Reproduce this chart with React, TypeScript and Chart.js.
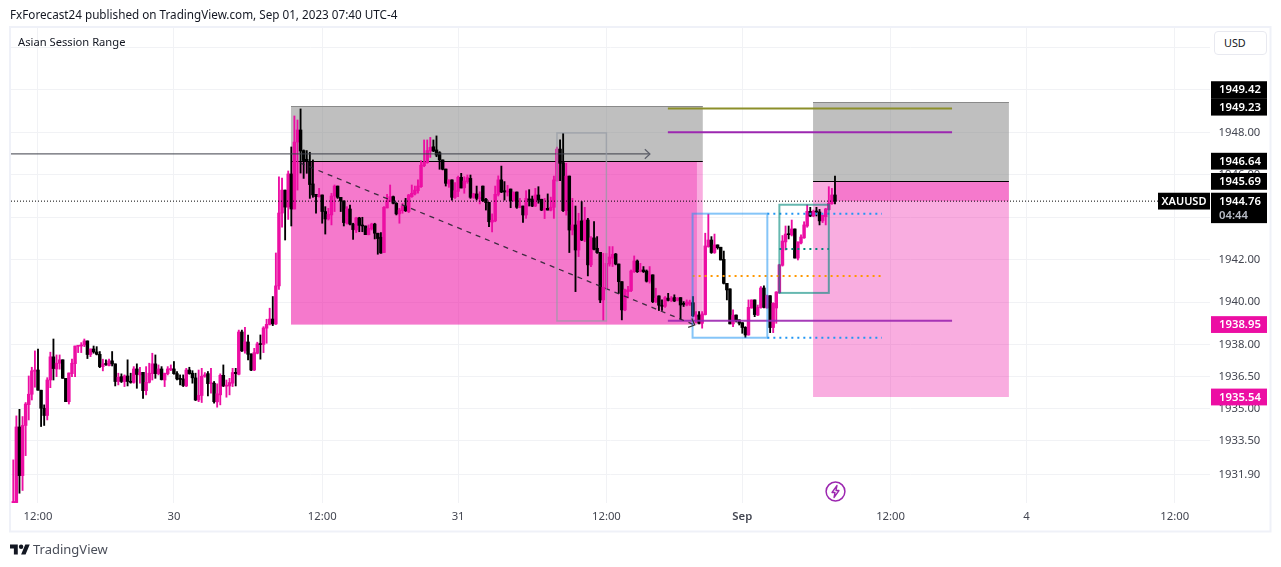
import React, { useEffect, useRef } from "react";
import { Chart, registerables } from "chart.js";

Chart.register(...registerables);

// [open, high, low, close] per 15-minute bar
const aug29Candles: number[][] = [
[1930.55,1932.58,1930.55,1930.62],[1930.57,1934.65,1930.55,1934.13],[1934.13,1934.96,1931.01,1931.84],[1931.84,1934.62,1931.14,1934.2],
[1934.2,1935.28,1932.78,1935.21],[1935.18,1936.53,1934.46,1935.67],[1935.67,1936.94,1935.4,1936.77],[1936.75,1937.71,1936.0,1936.81],
[1936.81,1937.8,1935.86,1935.86],[1935.86,1935.86,1934.15,1935.01],[1935.01,1935.17,1934.2,1934.67],[1934.67,1936.45,1934.46,1936.34],
[1936.34,1937.65,1935.98,1937.43],[1937.43,1938.27,1936.34,1936.88],[1936.86,1937.52,1936.5,1937.13],[1937.13,1937.52,1936.85,1937.29],
[1937.29,1937.29,1936.42,1936.42],[1936.42,1936.42,1935.32,1935.32],[1935.32,1936.67,1935.21,1936.67],[1936.64,1937.32,1936.5,1937.13],
[1937.11,1937.94,1936.5,1937.94],[1937.93,1937.96,1937.63,1937.96],[1937.94,1938.1,1937.63,1937.99],[1937.99,1938.27,1937.91,1938.18],
[1938.18,1938.18,1937.35,1937.54],[1937.54,1937.8,1937.44,1937.8],[1937.8,1937.94,1937.6,1937.66],[1937.66,1937.91,1937.52,1937.55],
[1937.55,1937.68,1936.92,1936.97],[1936.97,1937.32,1936.77,1937.1],[1937.1,1937.29,1937.03,1937.07],[1937.02,1937.32,1937.0,1937.24],
[1937.24,1937.68,1937.0,1937.1],[1937.1,1937.1,1936.06,1936.27],[1936.27,1936.66,1936.11,1936.47],[1936.5,1936.63,1936.22,1936.27],
[1936.27,1936.58,1936.03,1936.53],[1936.53,1937.29,1936.06,1936.27],[1936.28,1936.66,1936.19,1936.23],[1936.23,1936.97,1936.19,1936.86],
[1936.86,1937.1,1935.95,1936.6],[1936.58,1936.94,1936.19,1936.7],[1936.7,1936.7,1935.47,1935.84],[1935.84,1936.97,1935.64,1936.23],
[1936.23,1937.13,1936.2,1936.66],[1936.64,1937.6,1936.34,1937.1],[1937.1,1937.52,1936.42,1936.64],[1936.64,1937.05,1936.58,1936.86],
[1936.86,1936.97,1936.34,1936.36],[1936.34,1936.66,1936.03,1936.66],[1936.64,1936.97,1936.58,1936.86],[1936.83,1937.05,1936.78,1936.88],
];
const aug30Candles: number[][] = [
[1936.86,1937.21,1936.61,1936.64],[1936.64,1936.74,1936.34,1936.39],[1936.42,1936.58,1936.11,1936.36],[1936.39,1936.58,1936.03,1936.08],
[1936.06,1936.89,1936.03,1936.81],[1936.81,1936.94,1936.61,1936.64],[1936.66,1936.78,1936.19,1936.44],[1936.44,1936.66,1935.37,1935.4],
[1935.4,1936.81,1935.32,1935.62],[1935.61,1936.89,1935.28,1936.52],[1936.52,1936.69,1936.47,1936.58],[1936.64,1936.74,1935.59,1936.17],
[1936.17,1936.89,1935.72,1936.2],[1936.19,1936.27,1935.25,1935.32],[1935.31,1936.16,1935.06,1935.69],[1935.64,1936.63,1935.17,1936.56],
[1936.56,1937.05,1936.03,1936.06],[1936.05,1936.34,1935.53,1936.09],[1936.06,1936.42,1935.64,1936.22],[1936.19,1936.89,1936.03,1936.69],
[1936.7,1936.89,1936.06,1936.64],[1936.61,1938.69,1936.58,1938.6],[1938.6,1938.69,1937.68,1937.71],[1937.71,1938.82,1937.6,1938.13],
[1938.13,1938.46,1937.29,1937.55],[1937.57,1937.57,1936.78,1936.81],[1936.81,1937.83,1936.78,1937.63],[1937.6,1938.12,1937.57,1938.04],
[1938.04,1938.46,1937.32,1938.01],[1938.01,1938.85,1937.63,1938.79],[1938.78,1939.2,1938.07,1938.96],[1938.96,1939.72,1938.93,1939.21],
[1939.21,1940.27,1938.9,1938.98],[1938.98,1942.32,1938.95,1940.77],[1940.77,1945.9,1940.6,1944.2],[1944.2,1945.85,1943.54,1945.28],
[1945.28,1945.28,1942.93,1944.48],[1944.48,1946.18,1943.9,1946.04],[1946.04,1947.31,1943.59,1944.39],[1944.39,1948.77,1944.39,1947.54],
[1947.54,1948.58,1945.28,1948.11],[1948.11,1949.1,1946.08,1947.12],[1947.14,1947.17,1945.83,1946.67],[1946.73,1947.14,1946.07,1946.62],
[1946.62,1947.06,1944.89,1945.54],[1945.57,1946.7,1944.94,1945.05],[1945.08,1945.08,1944.19,1944.97],[1944.97,1945.36,1944.95,1945.05],
[1945.05,1945.05,1943.72,1944.27],[1944.27,1944.5,1943.21,1943.92],[1943.92,1944.42,1943.87,1944.14],[1944.11,1945.13,1943.64,1945.0],
[1945.0,1945.52,1944.27,1945.47],[1945.47,1945.47,1944.89,1944.94],[1944.94,1944.94,1944.27,1944.77],[1944.77,1944.77,1943.59,1943.75],
[1943.72,1944.5,1943.68,1944.39],[1944.39,1944.58,1943.64,1943.68],[1943.68,1943.72,1942.96,1943.42],[1943.4,1944.0,1943.28,1943.97],
[1943.97,1944.0,1943.32,1943.62],[1943.62,1944.0,1943.32,1943.59],[1943.59,1943.59,1943.18,1943.18],[1943.18,1943.64,1943.17,1943.48],
[1943.45,1943.72,1943.4,1943.68],[1943.68,1943.72,1942.98,1943.25],[1943.25,1943.25,1942.26,1943.0],[1943.06,1943.28,1942.3,1942.32],
[1942.34,1944.5,1942.33,1944.47],[1944.44,1945.08,1944.44,1944.78],[1944.75,1945.52,1944.74,1944.97],[1944.97,1945.0,1944.63,1944.66],
[1944.66,1944.66,1944.11,1944.16],[1944.16,1944.42,1943.72,1944.34],[1944.31,1944.66,1944.19,1944.53],[1944.53,1944.89,1944.27,1944.31],
[1944.27,1945.08,1944.22,1945.05],[1944.97,1945.52,1944.94,1945.13],[1945.1,1945.47,1945.05,1945.28],[1945.25,1945.76,1945.13,1945.47],
[1945.44,1946.67,1945.41,1946.45],[1946.43,1947.64,1946.38,1946.59],[1946.57,1947.64,1946.54,1947.14],[1947.12,1947.76,1946.82,1947.29],
[1947.32,1947.64,1947.09,1947.12],[1947.17,1947.83,1946.85,1946.93],[1947.04,1947.09,1946.26,1946.7],[1946.7,1946.7,1946.23,1946.26],
[1946.27,1946.27,1945.47,1945.6],[1945.57,1945.76,1945.41,1945.76],[1945.76,1945.76,1944.81,1944.94],[1944.94,1945.63,1944.89,1945.25],
];
const aug31Candles: number[][] = [
[1945.22,1945.94,1944.97,1945.88],[1945.88,1946.07,1945.38,1945.38],[1945.39,1945.91,1945.13,1945.71],[1945.68,1945.99,1945.6,1945.87],
[1945.83,1945.99,1944.89,1944.94],[1944.94,1945.13,1944.89,1945.1],[1945.1,1945.47,1944.81,1944.89],[1944.88,1945.2,1944.63,1944.92],
[1945.47,1945.47,1944.74,1944.78],[1944.85,1944.89,1944.34,1944.69],[1944.7,1944.7,1943.56,1943.79],[1943.77,1944.16,1943.31,1943.86],
[1943.83,1945.47,1943.79,1945.08],[1945.08,1945.95,1945.0,1945.76],[1945.76,1946.41,1945.16,1945.19],[1945.25,1945.68,1944.81,1945.19],
[1945.19,1945.5,1945.0,1945.24],[1945.33,1945.33,1944.45,1944.78],[1944.78,1945.2,1944.75,1945.16],[1945.19,1945.19,1944.42,1944.47],
[1944.47,1944.89,1944.45,1944.53],[1944.53,1944.53,1943.76,1944.11],[1944.11,1945.25,1943.95,1944.89],[1944.86,1945.3,1944.53,1944.81],
[1944.86,1945.0,1944.5,1944.53],[1944.53,1945.36,1944.5,1945.05],[1945.05,1945.44,1944.66,1944.81],[1944.85,1944.85,1944.31,1944.34],
[1944.34,1944.89,1943.94,1944.42],[1944.42,1945.1,1944.34,1944.34],[1944.34,1944.95,1944.3,1944.47],[1944.47,1945.94,1943.95,1945.76],
[1945.72,1947.3,1945.7,1947.21],[1947.21,1947.64,1945.72,1946.54],[1946.57,1947.95,1944.27,1944.31],[1944.31,1946.54,1944.1,1945.94],
[1945.94,1945.94,1942.34,1943.4],[1943.4,1944.89,1943.17,1943.64],[1943.64,1944.53,1940.5,1942.46],[1942.46,1944.19,1942.15,1943.83],
[1943.83,1944.74,1942.9,1942.93],[1942.93,1944.47,1942.85,1943.87],[1943.87,1943.95,1941.24,1941.76],[1941.76,1943.09,1941.68,1943.03],
[1943.03,1943.8,1942.46,1942.49],[1942.54,1943.09,1942.3,1942.34],[1942.35,1942.35,1939.98,1940.11],[1940.11,1942.3,1939.14,1940.7],
[1940.65,1942.3,1940.58,1941.83],[1941.8,1942.62,1941.7,1942.13],[1942.07,1942.62,1941.68,1942.26],[1942.27,1942.3,1941.76,1941.8],
[1941.8,1941.8,1940.42,1940.97],[1940.97,1940.97,1939.17,1939.64],[1939.64,1940.62,1939.6,1940.58],[1940.5,1940.75,1940.2,1940.58],
[1940.55,1941.52,1940.5,1941.47],[1941.44,1942.18,1941.4,1941.94],[1941.94,1941.99,1941.4,1941.44],[1941.47,1941.83,1941.43,1941.52],
[1941.52,1941.68,1941.4,1941.44],[1941.47,1941.52,1940.95,1940.99],[1940.99,1941.68,1940.9,1941.29],[1941.29,1941.29,1939.98,1940.03],
[1940.02,1940.66,1939.98,1940.19],[1940.3,1940.3,1939.61,1939.86],[1939.86,1940.11,1939.61,1939.81],[1939.81,1940.27,1939.76,1940.22],
[1940.19,1940.42,1940.06,1940.09],[1940.09,1940.27,1940.03,1940.19],[1940.22,1940.35,1940.03,1940.06],[1940.09,1940.22,1940.06,1940.19],
[1940.22,1940.22,1939.2,1939.87],[1939.95,1940.03,1939.8,1939.9],[1939.87,1940.11,1939.83,1940.01],[1939.92,1940.1,1939.85,1940.01],
[1939.98,1940.27,1939.33,1939.36],[1939.33,1939.56,1939.04,1939.4],[1939.4,1939.56,1938.98,1939.01],[1939.01,1939.56,1938.78,1939.45],
[1939.42,1943.25,1939.4,1942.65],[1942.62,1944.15,1942.59,1942.93],[1942.93,1943.09,1942.3,1942.34],[1942.34,1943.21,1942.3,1942.7],
[1942.7,1942.7,1942.5,1942.57],[1942.59,1942.59,1941.99,1941.99],[1942.02,1942.41,1940.86,1940.89],[1940.89,1940.89,1940.11,1940.58],
[1940.63,1940.63,1938.98,1938.98],[1938.98,1939.64,1938.85,1939.39],[1939.4,1939.4,1939.07,1939.14],[1939.17,1939.17,1938.93,1939.01],
];
const sep01Candles: number[][] = [
[1939.04,1939.04,1938.54,1938.81],[1938.82,1938.85,1938.34,1938.46],[1938.46,1940.11,1938.45,1939.76],[1939.73,1940.11,1939.72,1940.11],
[1940.11,1940.11,1939.32,1939.42],[1939.4,1939.87,1939.37,1939.76],[1939.75,1940.74,1939.72,1940.67],[1940.67,1940.77,1939.73,1939.76],
[1939.73,1940.34,1939.72,1940.31],[1940.31,1940.31,1938.57,1938.81],[1938.81,1939.98,1938.57,1939.95],[1939.73,1940.5,1939.01,1940.48],
[1940.45,1941.79,1940.42,1941.76],[1941.74,1943.14,1941.7,1942.88],[1942.84,1943.59,1942.46,1943.21],[1943.21,1943.59,1942.98,1943.18],
[1943.17,1943.87,1943.12,1943.45],[1943.45,1943.45,1942.08,1942.08],[1942.08,1942.84,1941.99,1942.84],[1942.79,1943.17,1942.74,1943.07],
[1943.03,1943.79,1943.01,1943.64],[1943.59,1944.58,1943.53,1944.28],[1944.28,1944.47,1944.03,1944.06],[1944.06,1944.34,1944.03,1944.28],
[1944.28,1944.47,1944.06,1944.25],[1944.25,1944.37,1943.64,1943.83],[1943.83,1944.1,1943.75,1944.1],[1944.03,1944.42,1943.64,1944.39],
[1944.36,1945.44,1944.34,1944.66],[1944.64,1945.36,1944.61,1945.05],[1945.05,1945.94,1944.63,1944.77],
];
const candles = [...aug29Candles, ...aug30Candles, ...aug31Candles, ...sep01Candles];

const xTickBars = [8, 52, 100, 144, 192, 236, 284, 328, 376];
const xTickLabels = ["12:00", "30", "12:00", "31", "12:00", "Sep", "12:00", "4", "12:00"];
const yTicks = [1952, 1950, 1948, 1946, 1944, 1942, 1940, 1938, 1936.5, 1935, 1933.5, 1931.9];

const UP = "#EC0EA3";
const DOWN = "#000000";
const FONT = '"Noto Sans", sans-serif';
const GRID = "#f1f2f5";

// x0 bar, x1 bar, top price, bottom price
const grayBoxLeft = [89.9, 223.2, 1949.23, 1946.64];
const pinkBoxLeftOuter = [89.9, 223.2, 1946.64, 1938.95];
const pinkBoxLeftInner = [89.9, 221.3, 1946.64, 1938.95];
const grayBoxRight = [258.9, 322.3, 1949.42, 1945.69];
const pinkBoxRightOuter = [258.9, 322.3, 1945.69, 1935.54];
const pinkBoxRightInner = [266.2, 322.3, 1945.69, 1944.76];
const grayFrame = [176, 192, 1947.97, 1939.12];
const blueFrame = [219.9, 244.1, 1944.17, 1938.33];
const tealFrame = [248, 264, 1944.59, 1940.44];

const lastPrice = 1944.76;
const arrowLevel = 1946.98;
const oliveLevel = 1949.12;
const purpleUpper = 1948.0;
const purpleLower = 1939.13;
const blueUpper = 1944.17;
const blueLower = 1938.33;
const orangeLevel = 1941.24;
const tealLevel = 1942.51;
const diagStart = [92.8, 1946.56];
const diagEnd = [220.6, 1938.93];

const hline = (x0: number, x1: number, y: number) => [{ x: x0, y }, { x: x1, y }];

function lineDs(data: any[], color: string, width: number, dash: number[] = []) {
  return {
    type: "line" as const, data, borderColor: color, borderWidth: width, borderDash: dash,
    pointRadius: 0, fill: false, tension: 0, order: 0,
  };
}

const overlayPlugin = {
  id: "overlay",
  beforeDatasetsDraw(chart: any) {
    const { ctx, scales: { x, y } } = chart;
    const fill = (b: number[], c: string) => {
      ctx.fillStyle = c;
      ctx.fillRect(x.getPixelForValue(b[0]), y.getPixelForValue(b[2]),
        x.getPixelForValue(b[1]) - x.getPixelForValue(b[0]), y.getPixelForValue(b[3]) - y.getPixelForValue(b[2]));
    };
    const edge = (b: number[], v: number, c: string) => {
      ctx.strokeStyle = c; ctx.lineWidth = 1; ctx.beginPath();
      const py = Math.round(y.getPixelForValue(v)) + 0.5;
      ctx.moveTo(x.getPixelForValue(b[0]), py); ctx.lineTo(x.getPixelForValue(b[1]), py); ctx.stroke();
    };
    ctx.save();
    fill(grayBoxLeft, "rgba(128,128,128,0.5)");
    fill(pinkBoxLeftOuter, "rgba(236,14,163,0.34)");
    fill(pinkBoxLeftInner, "rgba(236,14,163,0.33)");
    fill(grayBoxRight, "rgba(128,128,128,0.5)");
    fill(pinkBoxRightOuter, "rgba(236,14,163,0.34)");
    fill(pinkBoxRightInner, "rgba(236,14,163,0.33)");
    edge(grayBoxLeft, grayBoxLeft[2], "#8a8a8a");
    edge(grayBoxRight, grayBoxRight[2], "#8a8a8a");
    edge(grayBoxLeft, grayBoxLeft[3], "#000000");
    edge(grayBoxRight, grayBoxRight[3], "#000000");
    ctx.restore();
  },
  afterDatasetsDraw(chart: any) {
    const { ctx, scales: { x, y } } = chart;
    const frame = (b: number[], c: string, w: number) => {
      ctx.strokeStyle = c; ctx.lineWidth = w;
      ctx.strokeRect(x.getPixelForValue(b[0]), y.getPixelForValue(b[2]),
        x.getPixelForValue(b[1]) - x.getPixelForValue(b[0]), y.getPixelForValue(b[3]) - y.getPixelForValue(b[2]));
    };
    ctx.save();
    frame(grayFrame, "rgba(150,155,165,0.7)", 1.5);
    frame(blueFrame, "rgba(33,150,243,0.55)", 2);
    frame(tealFrame, "rgba(0,137,123,0.6)", 2);
    // arrow heads
    const head = (bx: number, py: number, ax: number, ay: number, c: string) => {
      const px = x.getPixelForValue(bx);
      const pv = y.getPixelForValue(py);
      const ang = Math.atan2(ay, ax);
      ctx.strokeStyle = c; ctx.lineWidth = 1.2; ctx.beginPath();
      ctx.moveTo(px - 7 * Math.cos(ang - 0.75), pv - 7 * Math.sin(ang - 0.75));
      ctx.lineTo(px, pv);
      ctx.lineTo(px - 7 * Math.cos(ang + 0.75), pv - 7 * Math.sin(ang + 0.75));
      ctx.stroke();
    };
    head(206.1, arrowLevel, 1, 0, "#5d606b");
    head(diagEnd[0], diagEnd[1], 2.4, 1, "#333333");
    // price tags
    const tag = (value: number, text: string, bg: string, shift: number, h = 16.8, sub?: string) => {
      const cy = y.getPixelForValue(value) + shift;
      ctx.fillStyle = bg;
      ctx.fillRect(1211, cy - 8.4, 56, h);
      ctx.fillStyle = "#ffffff";
      ctx.font = `600 11.3px ${FONT}`;
      ctx.textAlign = "left"; ctx.textBaseline = "middle";
      ctx.fillText(text, 1219, cy + 0.3);
      if (sub) { ctx.fillStyle = "#b8bcc6"; ctx.fillText(sub, 1219, cy + 15); }
    };
    tag(1949.42, "1949.42", "#000000", -12.5, 17.6);
    tag(1949.23, "1949.23", "#000000", 1);
    tag(1946.64, "1946.64", "#000000", 0);
    tag(1945.69, "1945.69", "#000000", 0);
    tag(lastPrice, "1944.76", "#000000", 0, 30.4, "04:44");
    tag(1938.95, "1938.95", UP, 0);
    tag(1935.54, "1935.54", UP, 0);
    const py = y.getPixelForValue(lastPrice);
    ctx.fillStyle = "#000000";
    ctx.fillRect(1158, py - 8.4, 52, 16.8);
    ctx.fillStyle = "#ffffff";
    ctx.font = `600 11px ${FONT}`;
    ctx.textAlign = "center";
    ctx.fillText("XAUUSD", 1184, py + 0.3);
    ctx.restore();
  },
  afterDraw(chart: any) {
    const { ctx } = chart;
    ctx.save();
    ctx.strokeStyle = "#eff1f8"; ctx.lineWidth = 2;
    ctx.strokeRect(10, 27, 1260.5, 504.5);
    ctx.restore();
  },
};

const textStyle: React.CSSProperties = { position: "absolute", fontFamily: FONT, whiteSpace: "nowrap" };

export default function App() {
  const ref = useRef<HTMLCanvasElement>(null);
  useEffect(() => {
    const wicks = candles.map((c, i) => ({ x: i, y: [c[2], c[1]] }));
    const bodies = candles.map((c, i) => ({ x: i, y: [c[0], c[3]] }));
    const colors = candles.map((c) => (c[3] >= c[0] ? UP : DOWN));
    const chart = new Chart(ref.current as HTMLCanvasElement, {
      type: "bar",
      data: {
        datasets: [
          lineDs(hline(-0.74, 370.6, lastPrice), "#000000", 1, [1, 2]),
          lineDs(hline(-0.74, 206.1, arrowLevel), "rgba(60,62,72,0.8)", 1.2),
          lineDs([{ x: diagStart[0], y: diagStart[1] }, { x: diagEnd[0], y: diagEnd[1] }], "rgba(30,30,40,0.85)", 1.3, [5, 5]),
          lineDs(hline(211.9, 303.9, oliveLevel), "#8c8f2a", 2),
          lineDs(hline(211.9, 303.9, purpleUpper), "#9c27b0", 2),
          lineDs(hline(211.9, 303.9, purpleLower), "rgba(156,39,176,0.9)", 2),
          lineDs(hline(244.1, 281.2, blueUpper), "#2196f3", 2, [2, 4]),
          lineDs(hline(244.1, 281.2, blueLower), "#2196f3", 2, [2, 4]),
          lineDs(hline(219.9, 281.2, orangeLevel), "#ff9800", 2, [2, 4]),
          lineDs(hline(248, 264, tealLevel), "#00897b", 2, [2, 4]),
          { data: bodies, backgroundColor: colors, barThickness: 2.8, minBarLength: 1, borderWidth: 0, grouped: false, order: 1 },
          { data: wicks, backgroundColor: colors, barThickness: 1.2, borderWidth: 0, grouped: false, order: 2 },
        ] as any,
      },
      options: {
        responsive: false,
        animation: false,
        events: [],
        layout: { padding: { left: 11, top: 28, right: 11, bottom: 36 } },
        plugins: { legend: { display: false }, tooltip: { enabled: false }, title: { display: false } },
        scales: {
          x: {
            type: "linear", min: -0.74, max: 387.4, offset: false,
            grid: { color: GRID, offset: false, drawTicks: false },
            border: { display: false },
            afterBuildTicks: (s: any) => { s.ticks = xTickBars.map((value) => ({ value })); },
            afterFit: (s: any) => { s.height = 28; },
            ticks: {
              autoSkip: false, maxRotation: 0, padding: 7, color: "#434651",
              font: (c: any) => ({ family: FONT, size: 11.3, weight: c.tick && c.tick.label === "Sep" ? "600" : "normal" }),
              callback: (v: any) => xTickLabels[xTickBars.indexOf(Number(v))] ?? "",
            },
          },
          y: {
            type: "linear", position: "right", min: 1930.55, max: 1952.91,
            grid: { color: GRID, drawTicks: false },
            border: { display: false },
            afterBuildTicks: (s: any) => { s.ticks = yTicks.map((value) => ({ value })); },
            afterFit: (s: any) => { s.width = 60; },
            ticks: {
              autoSkip: false, padding: 8.5, color: "#434651", font: { family: FONT, size: 11.3 },
              callback: (v: any) => Number(v).toFixed(2),
            },
          },
        },
      } as any,
      plugins: [overlayPlugin],
    });
    return () => chart.destroy();
  }, []);

  return (
    <div style={{ position: "fixed", left: 0, top: 0, width: 1281, height: 567, background: "#fff", overflow: "hidden" }}>
      <canvas ref={ref} width={1281} height={567} style={{ position: "absolute", left: 0, top: 0, display: "block" }} />
      <div style={{ ...textStyle, left: 10, top: 6, fontSize: 11.7, color: "#131722" }}>
        FxForecast24 published on TradingView.com, Sep 01, 2023 07:40 UTC-4
      </div>
      <div style={{ ...textStyle, left: 18, top: 34, fontSize: 11.2, color: "#131722" }}>Asian Session Range</div>
      <div style={{ ...textStyle, left: 1214, top: 31, width: 53, height: 24, boxSizing: "border-box", border: "1px solid #e8e9f0", borderRadius: 4, background: "#fff", fontSize: 10.8, color: "#131722", lineHeight: "22px", paddingLeft: 9 }}>USD</div>
      <svg style={{ position: "absolute", left: 10, top: 543 }} width="20" height="13" viewBox="0 3 36 20">
        <path d="M14 22H7V11H0V4h14v18zM28 22h-8l7.5-18h8L28 22z" fill="#131722" />
        <circle cx="20" cy="8" r="4" fill="#131722" />
      </svg>
      <div style={{ ...textStyle, left: 33, top: 540, fontSize: 13, color: "#4a4e59" }}>TradingView</div>
      <svg style={{ position: "absolute", left: 825, top: 481 }} width="21" height="21" viewBox="0 0 21 21">
        <circle cx="10.5" cy="10.5" r="9.4" fill="#fff" stroke="#9c27b0" strokeWidth="1.5" />
        <path d="M12 4.5 L7 11.5 H10 L9 16.5 L14 9.5 H11 Z" fill="none" stroke="#9c27b0" strokeWidth="1.3" strokeLinejoin="round" />
      </svg>
    </div>
  );
}
